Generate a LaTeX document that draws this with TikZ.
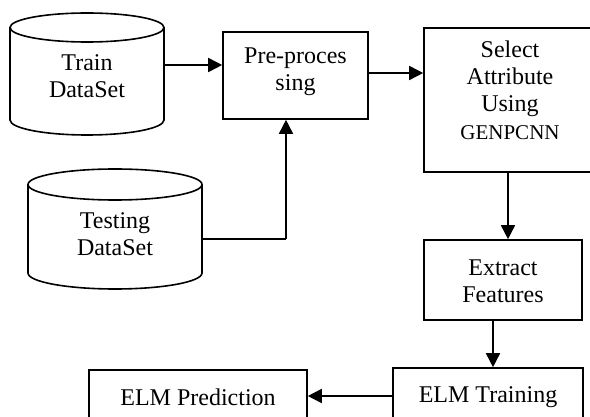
\documentclass[tikz,border=0pt]{standalone}
\usepackage{fontspec}
\setmainfont{Liberation Serif}
\usetikzlibrary{arrows.meta}
\tikzset{
  lbl/.style={align=center, inner sep=0pt, font=\fontsize{24}{27}\selectfont},
  smalllbl/.style={align=center, inner sep=0pt, font=\fontsize{21}{27}\selectfont},
  boxnode/.style={draw, line width=1.6pt, rectangle, inner sep=0pt},
  flow/.style={line width=1.6pt, -{Triangle[length=14pt,width=14pt]}},
  link/.style={line width=1.6pt},
  dbline/.style={line width=1.6pt}
}
\begin{document}
\begin{tikzpicture}[x=1pt,y=-1pt]
\useasboundingbox (0,0) rectangle (590,417);
\clip (0,0) rectangle (590,417);

% --- database cylinders (y axis points down, so the lower rim runs 180 -> 0) ---
\draw[dbline] (87,27.5) ellipse[x radius=77, y radius=14.5];
\draw[dbline] (10,27.5) -- (10,120) arc[start angle=180, end angle=0, x radius=77, y radius=15] -- (164,27.5);
\node[lbl] (train) at (87,76) {Train\\DataSet};
\coordinate (trainR) at (164,65);

\draw[dbline] (115,184.5) ellipse[x radius=87, y radius=15.5];
\draw[dbline] (28,184.5) -- (28,273) arc[start angle=180, end angle=0, x radius=87, y radius=16] -- (202,184.5);
\node[lbl] (test) at (115,234.5) {Testing\\DataSet};
\coordinate (testR) at (202,239);

% --- process boxes ---
\node[boxnode, minimum width=145pt, minimum height=87pt] (pre) at (295.5,75.5) {};
\node[lbl] (pretxt) at (295.5,72) {Pre-proces\\sing};

\node[boxnode, minimum width=172pt, minimum height=144pt] (sel) at (510,100) {};
\node[lbl] (seltxt) at (510,79) {Select\\Attribute\\Using};
\node[smalllbl] (selgen) at (510,133) {GENPCNN};

\node[boxnode, minimum width=158pt, minimum height=80pt] (ext) at (503,280) {};
\node[lbl] (exttxt) at (503,281.5) {Extract\\Features};

\node[boxnode, minimum width=190pt, minimum height=58pt] (train2) at (488,397) {};
\node[lbl] (train2txt) at (488,397) {ELM Training};

\node[boxnode, minimum width=218pt, minimum height=54pt] (pred) at (198,397) {};
\node[lbl] (predtxt) at (198,397) {ELM Prediction};

% --- connectors ---
\draw[flow] (trainR) -- (trainR -| pre.west);
\coordinate (preOut) at (368,73);
\draw[flow] (preOut -| pre.east) -- (preOut -| sel.west);
\coordinate (bend) at (286,239);
\draw[link] (testR) -- (bend);
\draw[flow] (bend) -- (bend |- pre.south);
\coordinate (selDown) at (508,0);
\draw[flow] (selDown |- sel.south) -- (selDown |- ext.north);
\coordinate (extDown) at (493,0);
\draw[flow] (extDown |- ext.south) -- (extDown |- train2.north);
\coordinate (predIn) at (0,396);
\draw[flow] (predIn -| train2.west) -- (predIn -| pred.east);
\end{tikzpicture}
\end{document}
